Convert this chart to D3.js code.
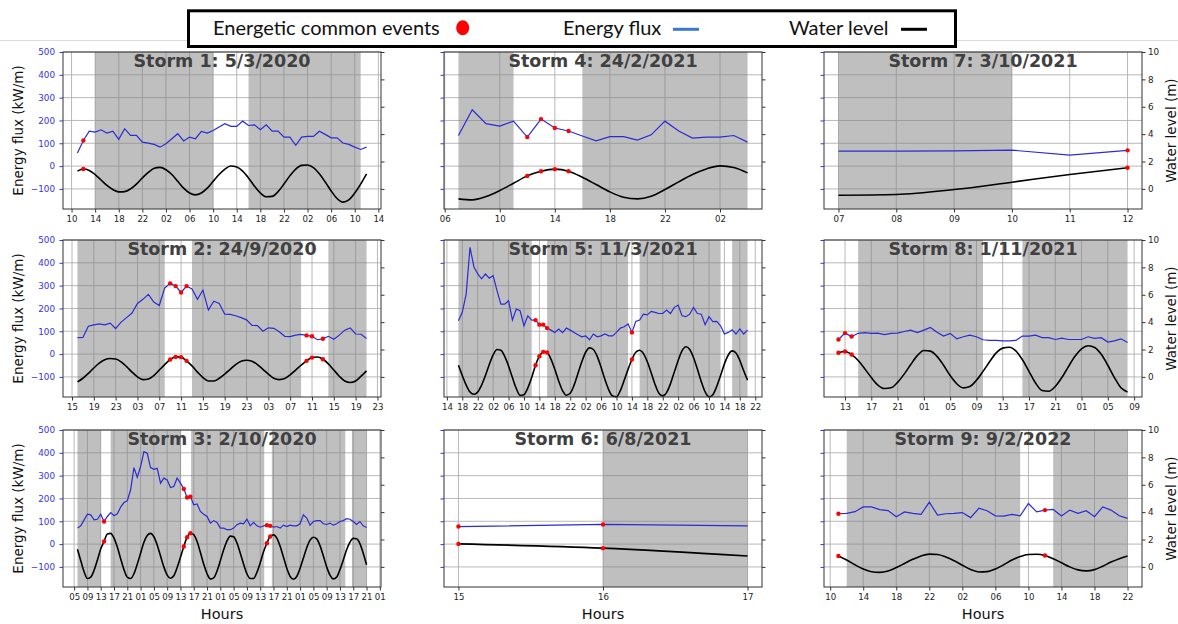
<!DOCTYPE html>
<html>
<head>
<meta charset="utf-8">
<script src="https://cdn.jsdelivr.net/npm/d3@7"></script>
<style>
  body { margin: 0; background: #fff; }
  svg { display: block; font-family: "DejaVu Sans", sans-serif; }
</style>
</head>
<body>
<div id="chart"></div>
<script>
// ---- data (hourly values, hours counted from 00:00 of the base day) ----
const titles = ["Storm 1: 5/3/2020", "Storm 2: 24/9/2020", "Storm 3: 2/10/2020",
                "Storm 4: 24/2/2021", "Storm 5: 11/3/2021", "Storm 6: 6/8/2021",
                "Storm 7: 3/10/2021", "Storm 8: 1/11/2021", "Storm 9: 9/2/2022"];
const baseDates = ["2020-03-05", "2020-09-24", "2020-10-02", "2021-02-24", "2021-03-11",
                   "2021-08-06", "2021-10-03", "2021-11-01", "2022-02-09"];
const fluxTicks = [-100, 0, 100, 200, 300, 400, 500];
const levelTicks = [0, 2, 4, 6, 8, 10];

// storm 1
const storm1Start = 11;
const storm1Flux = [57,112,153,149,159,145,153,117,164,135, 135,105,101,95,83,98,120,142,110,127,
  120,152,145,156,171,186,174,174,197,178, 181,159,181,153,153,127,127,91,127,130,
  130,153,139,124,124,101,95,83,73,83];
const storm1Level = [1.3,1.45,1.35,1.05,0.65,0.25,-0.05,-0.22,-0.2,0.0, 0.35,0.8,1.2,1.5,1.57,1.4,1.05,0.55,0.05,-0.3,
  -0.44,-0.3,0.05,0.55,1.05,1.45,1.67,1.6,1.3,0.8, 0.2,-0.3,-0.58,-0.55,-0.2,0.35,0.95,1.45,1.72,1.75,
  1.55,1.1,0.5,-0.15,-0.7,-0.97,-0.8,-0.3,0.35,1.1];
const storm1Events = [12];
const storm1Shade = [[14, 34], [40, 59]];
const storm1Ticks = [10, 4];

// storm 2
const storm2Start = 16;
const storm2Flux = [72,73,122,128,132,128,136,112,140,160, 180,222,240,262,228,213,290,310,298,270,
  298,285,240,280,193,232,222,175,174,168, 160,150,126,125,100,115,113,98,78,77,
  83,86,82,78,63,67,78,65,83,105, 115,88,87,68];
const storm2Level = [-0.37,-0.1,0.25,0.65,1.0,1.25,1.34,1.3,1.1,0.75, 0.35,0.0,-0.2,-0.15,0.1,0.5,0.9,1.27,1.46,1.44,
  1.17,0.8,0.35,-0.05,-0.3,-0.3,-0.1,0.2,0.55,0.9, 1.15,1.22,1.15,0.9,0.55,0.2,-0.1,-0.2,-0.12,0.15,
  0.5,0.85,1.17,1.41,1.45,1.29,0.95,0.5,0.05,-0.3, -0.41,-0.3,0.05,0.44];
const storm2Events = [33, 34, 35, 36, 58, 59, 61];
const storm2Shade = [[16, 32], [37, 57], [62, 69]];
const storm2Ticks = [15, 4];

// storm 3
const storm3Start = 6;
const storm3Flux = [70,80,106,131,128,106,109,131,99,121, 138,124,133,162,182,190,238,335,293,340,
  405,398,335,328,332,267,289,281,248,252, 289,267,242,204,208,172,176,143,131,121,
  92,103,95,70,70,63,63,70,85,92, 89,109,80,95,80,74,80,83,80,74,
  77,70,83,77,83,80,80,89,128,114, 83,99,103,103,89,86,92,83,89,99,
  103,112,109,99,86,99,80,73];
const storm3Level = [1.29,0.45,-0.35,-0.85,-0.75,-0.25,0.5,1.3,1.85,2.4, 2.45,2.1,1.45,0.6,-0.2,-0.75,-0.85,-0.5,0.2,1.0,
  1.8,2.3,2.45,2.2,1.6,0.8,0.0,-0.6,-0.83,-0.65, -0.05,0.7,1.49,2.17,2.46,2.35,1.85,1.05,0.2,-0.5,
  -0.88,-0.8,-0.3,0.45,1.25,1.9,2.25,2.2,1.75,1.0, 0.2,-0.5,-0.85,-0.85,-0.4,0.3,1.1,1.73,2.22,2.34,
  2.1,1.5,0.7,-0.1,-0.7,-0.9,-0.7,-0.1,0.65,1.4, 1.95,2.17,2.05,1.55,0.8,0.0,-0.6,-0.88,-0.75,-0.2,
  0.5,1.25,1.8,2.08,2.05,1.7,1.0,0.15];
const storm3Events = [14, 38, 39, 40, 63, 64];
const storm3Shade = [[6, 13], [16, 37.2], [40.2, 62.2], [64.5, 86.6], [88.6, 93]];
const storm3Ticks = [5, 4];

// storm 4
const storm4Start = 7;
const storm4Flux = [134,247,186,175,197,127,206,167,154,132, 111,129,129,114,137,197,154,123,127,127,
  134,105];
const storm4Level = [-0.73,-0.8,-0.56,-0.12,0.41,0.95,1.29,1.44,1.29,0.85, 0.32,-0.22,-0.61,-0.73,-0.54,-0.05,0.51,1.05,1.46,1.68,
  1.56,1.17];
const storm4Events = [12, 13, 14, 15];
const storm4Shade = [[7, 11], [16, 28]];
const storm4Ticks = [6, 4];

// storm 5
const storm5Start = 17;
const storm5Flux = [146,183,263,468,383,351,330,351,333,344, 278,219,219,234,149,197,190,124,168,149,
  149,129,129,114,105,95,110,94,114,105, 95,85,76,80,63,88,76,80,88,80,
  80,95,114,120,132,95,143,149,175,172, 187,183,178,178,193,178,205,215,168,164,
  175,205,178,175,129,164,142,143,124,88, 95,107,88,110,88,105];
const storm5Level = [0.85,0.1,-0.6,-1.1,-1.27,-1.1,-0.6,0.1,0.9,1.6, 2.0,1.95,1.5,0.8,-0.05,-0.85,-1.35,-1.3,-0.8,-0.05,
  0.85,1.51,1.83,1.78,1.3,0.55,-0.3,-1.0,-1.34,-1.2, -0.6,0.25,1.1,1.8,2.12,2.0,1.5,0.7,-0.2,-0.95,
  -1.4,-1.45,-1.0,-0.25,0.55,1.27,1.8,1.95,1.7,1.1, 0.3,-0.55,-1.2,-1.39,-1.15,-0.5,0.35,1.2,1.9,2.2,
  2.0,1.4,0.55,-0.35,-1.1,-1.46,-1.3,-0.7,0.1,0.95, 1.6,1.9,1.75,1.2,0.45,-0.24];
const storm5Events = [37, 38, 39, 40, 62];
const storm5Shade = [[17, 36], [40, 61], [64, 85], [88, 92]];
const storm5Ticks = [14, 4];

// storm 6
const storm6Start = 15;
const storm6Flux = [77, 86, 80];
const storm6Level = [1.68, 1.37, 0.8];
const storm6Events = [15, 16];
const storm6Shade = [[16, 17]];
const storm6Ticks = [15, 1];

// storm 7
const storm7Start = 7;
const storm7Flux = [66, 66, 67, 70, 48, 69];
const storm7Level = [-0.46, -0.41, -0.05, 0.49, 1.05, 1.54];
const storm7Events = [12];
const storm7Shade = [[7, 10]];
const storm7Ticks = [7, 1];

// storm 8
const storm8Start = 12;
const storm8Flux = [64,92,77,91,94,91,92,85,91,92, 99,105,94,105,117,96,79,91,67,76,
  83,76,63,60,60,58,58,60,79,79, 83,72,72,64,70,64,64,64,76,69,
  72,53,58,67,51];
const storm8Level = [1.76,1.85,1.63,1.2,0.6,-0.05,-0.6,-0.85,-0.8,-0.4, 0.2,0.9,1.55,1.93,1.88,1.5,0.85,0.1,-0.5,-0.8,
  -0.7,-0.25,0.4,1.1,1.75,2.1,2.17,1.9,1.25,0.4, -0.45,-1.0,-1.05,-0.7,-0.05,0.75,1.5,2.05,2.27,2.15,
  1.65,0.85,-0.05,-0.8,-1.1];
const storm8Events = [12, 13, 14];
const storm8Shade = [[15, 34], [40, 56]];
const storm8Ticks = [13, 4];

// storm 9
const storm9Start = 11;
const storm9Flux = [133,135,142,163,163,151,147,120,141,135, 130,184,127,133,135,138,116,157,146,124,
  123,130,124,178,141,149,152,123,149,135, 146,120,163,149,124,113];
const storm9Level = [0.8,0.5,0.15,-0.15,-0.35,-0.4,-0.3,-0.05,0.25,0.55, 0.8,0.93,0.9,0.72,0.45,0.12,-0.2,-0.37,-0.35,-0.15,
  0.15,0.5,0.75,0.9,0.92,0.83,0.6,0.3,0.0,-0.22, -0.29,-0.2,0.05,0.35,0.6,0.8];
const storm9Events = [11, 36];
const storm9Shade = [[12, 33], [37, 46]];
const storm9Ticks = [10, 4];

const storms = [
  [storm1Start, storm1Flux, storm1Level, storm1Events, storm1Shade, storm1Ticks],
  [storm2Start, storm2Flux, storm2Level, storm2Events, storm2Shade, storm2Ticks],
  [storm3Start, storm3Flux, storm3Level, storm3Events, storm3Shade, storm3Ticks],
  [storm4Start, storm4Flux, storm4Level, storm4Events, storm4Shade, storm4Ticks],
  [storm5Start, storm5Flux, storm5Level, storm5Events, storm5Shade, storm5Ticks],
  [storm6Start, storm6Flux, storm6Level, storm6Events, storm6Shade, storm6Ticks],
  [storm7Start, storm7Flux, storm7Level, storm7Events, storm7Shade, storm7Ticks],
  [storm8Start, storm8Flux, storm8Level, storm8Events, storm8Shade, storm8Ticks],
  [storm9Start, storm9Flux, storm9Level, storm9Events, storm9Shade, storm9Ticks]
].map(function(s, i) {
  return {title: titles[i], base: d3.utcParse("%Y-%m-%d")(baseDates[i]),
          start: s[0], flux: s[1], level: s[2], events: s[3], shade: s[4], ticks: s[5]};
});

// ---- layout ----
var width = 1178, height = 624;
var colX = [63, 444, 824], rowY = [52, 240, 430];
var plotW = 318, plotH = 157;
var fluxColor = "#2b2bd6", tickBlue = "#3434e6";

var svg = d3.select("#chart").append("svg")
    .attr("width", width)
    .attr("height", height);

svg.append("rect").attr("width", width).attr("height", height).attr("fill", "#fff");

// legend
svg.append("line")
    .attr("x1", 0).attr("x2", width).attr("y1", 40.5).attr("y2", 40.5)
    .attr("stroke", "#dcdcdc");
svg.append("rect")
    .attr("x", 188.5).attr("y", 10.8).attr("width", 767).attr("height", 35.7)
    .attr("fill", "#fff").attr("stroke", "#000").attr("stroke-width", 3);

var legend = svg.append("g").attr("font-family", "Lato, sans-serif").attr("font-size", 20).attr("fill", "#111");
legend.append("text").attr("x", 213).attr("y", 35).text("Energetic common events");
legend.append("ellipse").attr("cx", 462.7).attr("cy", 27.7).attr("rx", 6.5).attr("ry", 7.5).attr("fill", "#f00");
legend.append("text").attr("x", 563).attr("y", 35).text("Energy flux");
legend.append("line").attr("x1", 673).attr("x2", 699).attr("y1", 29.3).attr("y2", 29.3)
    .attr("stroke", "#3a78d0").attr("stroke-width", 3);
legend.append("text").attr("x", 789).attr("y", 35).text("Water level");
legend.append("line").attr("x1", 901).attr("x2", 927).attr("y1", 29.3).attr("y2", 29.3)
    .attr("stroke", "#000").attr("stroke-width", 3);

// ---- panels ----
storms.forEach(function(s, i) {
    var col = Math.floor(i / 3), row = i % 3;
    var g = svg.append("g")
        .attr("transform", "translate(" + colX[col] + "," + rowY[row] + ")");

    // fractional hours allowed (d3.utcHour.offset would floor them)
    var t = function(h) { return new Date(s.base.getTime() + h * 3600e3); };
    var end = s.start + s.flux.length - 1;
    var pad = (end - s.start) * 0.05;

    var x = d3.scaleUtc()
        .domain([t(s.start - pad), t(end + pad)])
        .range([0, plotW]);
    var yFlux = d3.scaleLinear().domain([-188, 500]).range([plotH, 0]);
    var yLevel = d3.scaleLinear().domain([-1.47, 10]).range([plotH, 0]);

    var tickHours = d3.range(s.ticks[0], end + pad + 0.001, s.ticks[1])
        .filter(function(h) { return h >= s.start - pad - 0.001; });
    var tickDates = tickHours.map(t);

    // grid
    g.selectAll(".vgrid").data(tickDates).enter().append("line")
        .attr("x1", function(d) { return x(d); }).attr("x2", function(d) { return x(d); })
        .attr("y1", 0).attr("y2", plotH)
        .attr("stroke", "#b0b0b0").attr("stroke-width", 0.9);
    g.selectAll(".hgrid").data(fluxTicks).enter().append("line")
        .attr("x1", 0).attr("x2", plotW)
        .attr("y1", function(d) { return yFlux(d); }).attr("y2", function(d) { return yFlux(d); })
        .attr("stroke", "#b0b0b0").attr("stroke-width", 0.9);

    // shaded periods
    g.selectAll(".shade").data(s.shade).enter().append("rect")
        .attr("x", function(d) { return x(t(d[0])); })
        .attr("width", function(d) { return x(t(d[1])) - x(t(d[0])); })
        .attr("y", 0).attr("height", plotH)
        .attr("fill", "#808080").attr("fill-opacity", 0.5);

    var fluxPts = s.flux.map(function(v, k) { return {h: s.start + k, v: v}; });
    var levelPts = s.level.map(function(v, k) { return {h: s.start + k, v: v}; });

    g.append("path").datum(fluxPts)
        .attr("fill", "none").attr("stroke", fluxColor).attr("stroke-width", 1.2)
        .attr("d", d3.line().x(function(d) { return x(t(d.h)); }).y(function(d) { return yFlux(d.v); }));
    g.append("path").datum(levelPts)
        .attr("fill", "none").attr("stroke", "#000").attr("stroke-width", 1.6)
        .attr("d", d3.line().curve(d3.curveMonotoneX)
            .x(function(d) { return x(t(d.h)); }).y(function(d) { return yLevel(d.v); }));

    // energetic common events
    var ev = s.events.map(function(h) { return h - s.start; });
    g.selectAll(".evf").data(ev).enter().append("circle")
        .attr("cx", function(k) { return x(t(fluxPts[k].h)); })
        .attr("cy", function(k) { return yFlux(fluxPts[k].v); })
        .attr("r", 2.2).attr("fill", "#f00");
    g.selectAll(".evl").data(ev).enter().append("circle")
        .attr("cx", function(k) { return x(t(levelPts[k].h)); })
        .attr("cy", function(k) { return yLevel(levelPts[k].v); })
        .attr("r", 2.2).attr("fill", "#f00");

    // frame
    g.append("rect").attr("width", plotW).attr("height", plotH)
        .attr("fill", "none").attr("stroke", "#333").attr("stroke-width", 1);

    // axes
    var gx = g.append("g").attr("transform", "translate(0," + plotH + ")")
        .call(d3.axisBottom(x).tickValues(tickDates).tickFormat(d3.utcFormat("%H"))
            .tickSize(3.5).tickPadding(3));
    gx.attr("font-family", "DejaVu Sans").attr("font-size", 8.6);
    gx.select(".domain").remove();
    gx.selectAll("line").attr("stroke", "#333");
    gx.selectAll("text").attr("fill", "#222");

    var gl = g.append("g")
        .call(d3.axisLeft(yFlux).tickValues(fluxTicks)
            .tickFormat(col === 0 ? d3.format("d") : function() { return ""; })
            .tickSize(3.5).tickPadding(4.5));
    gl.attr("font-family", "DejaVu Sans").attr("font-size", 8.8);
    gl.select(".domain").remove();
    gl.selectAll("line").attr("stroke", tickBlue);
    gl.selectAll("text").attr("fill", tickBlue);

    var gr = g.append("g").attr("transform", "translate(" + plotW + ",0)")
        .call(d3.axisRight(yLevel).tickValues(levelTicks)
            .tickFormat(col === 2 ? d3.format("d") : function() { return ""; })
            .tickSize(3.5).tickPadding(2.5));
    gr.attr("font-family", "DejaVu Sans").attr("font-size", 8.8);
    gr.select(".domain").remove();
    gr.selectAll("line").attr("stroke", "#333");
    gr.selectAll("text").attr("fill", "#222");

    // title
    g.append("text")
        .attr("x", plotW / 2).attr("y", 15)
        .attr("text-anchor", "middle")
        .attr("font-weight", "bold").attr("font-size", 17.5)
        .attr("fill", "#404040")
        .text(s.title);

    if (col === 0) {
        svg.append("text")
            .attr("transform", "translate(23," + (rowY[row] + plotH / 2) + ") rotate(-90)")
            .attr("text-anchor", "middle").attr("font-size", 13.5).attr("fill", "#111")
            .text("Energy flux (kW/m)");
    }
    if (col === 2) {
        svg.append("text")
            .attr("transform", "translate(1176," + (rowY[row] + plotH / 2) + ") rotate(-90)")
            .attr("text-anchor", "middle").attr("font-size", 13.5).attr("fill", "#111")
            .text("Water level (m)");
    }
    if (row === 2) {
        svg.append("text")
            .attr("x", colX[col] + plotW / 2).attr("y", 619)
            .attr("text-anchor", "middle").attr("font-size", 14.5).attr("fill", "#111")
            .text("Hours");
    }
});
</script>
</body>
</html>
